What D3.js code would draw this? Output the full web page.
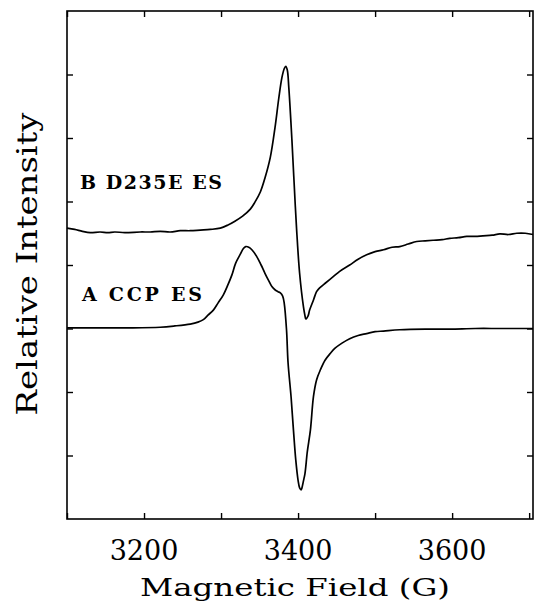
<!DOCTYPE html>
<html>
<head>
<meta charset="utf-8">
<script src="https://cdn.jsdelivr.net/npm/d3@7"></script>
<style>
	body { margin: 0; background: #fff; }
	text { font-family: "DejaVu Serif", "Liberation Serif", serif; fill: #000; }
</style>
</head>
<body>
<div id="panel"></div>
<script>
// Espectro B: D235E ES (campo en G, intensidad relativa)
var campoB = [3100, 3110, 3120, 3130, 3143, 3153, 3162, 3175, 3195, 3208, 3221, 3234, 3247, 3260, 3273, 3286, 3299, 3309, 3318, 3328, 3338, 3344, 3351, 3357, 3364, 3370, 3375, 3379, 3382, 3384, 3386, 3388, 3392, 3395, 3398, 3402, 3407, 3409, 3410, 3413, 3415, 3420, 3424, 3428, 3436, 3446, 3454, 3467, 3478, 3489, 3500, 3511, 3522, 3532, 3543, 3554, 3565, 3576, 3587, 3597, 3608, 3619, 3630, 3640, 3652, 3662, 3673, 3684, 3695, 3705];
var intB = [4.58, 4.56, 4.53, 4.51, 4.52, 4.51, 4.52, 4.51, 4.52, 4.52, 4.53, 4.52, 4.54, 4.54, 4.55, 4.56, 4.58, 4.63, 4.69, 4.77, 4.88, 4.99, 5.15, 5.37, 5.70, 6.16, 6.63, 6.95, 7.09, 7.13, 7.07, 6.79, 5.97, 5.26, 4.58, 3.87, 3.34, 3.20, 3.15, 3.20, 3.29, 3.45, 3.58, 3.64, 3.72, 3.82, 3.90, 4.00, 4.09, 4.16, 4.21, 4.24, 4.28, 4.29, 4.33, 4.37, 4.38, 4.39, 4.40, 4.42, 4.43, 4.45, 4.45, 4.46, 4.47, 4.49, 4.48, 4.50, 4.50, 4.48];

// Espectro A: CCP ES
var campoA = [3100, 3143, 3182, 3221, 3240, 3260, 3270, 3277, 3283, 3290, 3296, 3303, 3309, 3314, 3319, 3325, 3329, 3332, 3336, 3340, 3346, 3352, 3357, 3362, 3366, 3370, 3374, 3377, 3380, 3382, 3385, 3387, 3391, 3394, 3397, 3400, 3402, 3404, 3405, 3407, 3409, 3412, 3416, 3420, 3424, 3429, 3435, 3442, 3448, 3457, 3467, 3478, 3489, 3500, 3511, 3532, 3565, 3597, 3630, 3662, 3705];
var intA = [3.01, 3.01, 3.01, 3.02, 3.04, 3.07, 3.10, 3.14, 3.21, 3.29, 3.40, 3.53, 3.69, 3.84, 4.03, 4.17, 4.26, 4.29, 4.28, 4.24, 4.14, 4.00, 3.87, 3.75, 3.66, 3.61, 3.58, 3.56, 3.51, 3.40, 2.98, 2.46, 1.91, 1.40, 0.93, 0.61, 0.49, 0.46, 0.49, 0.60, 0.72, 1.06, 1.40, 1.93, 2.19, 2.35, 2.50, 2.61, 2.69, 2.77, 2.84, 2.89, 2.92, 2.95, 2.96, 2.98, 2.99, 2.99, 3.00, 3.00, 3.00];

var etiquetasX = [3200, 3400, 3600];
var ticksX = [3100, 3200, 3300, 3400, 3500, 3600, 3700];
var ticksY = [1, 2, 3, 4, 5, 6, 7];

var w = 534;
var h = 605;
var izq = 67, der = 533, arriba = 11, abajo = 519;

var svg = d3.select('#panel')
	.append('svg')
	.attr("width", w)
	.attr("height", h);

var x = d3.scaleLinear().domain([3100, 3705]).range([izq, der]);
var y = d3.scaleLinear().domain([0, 8]).range([abajo, arriba]);

// marco
svg.append("rect")
	.attr("x", izq)
	.attr("y", arriba)
	.attr("width", der - izq)
	.attr("height", abajo - arriba)
	.attr("fill", "none")
	.attr("stroke", "#000")
	.attr("stroke-width", 1.6);

// ticks hacia adentro en los cuatro lados
var ejeAbajo = d3.axisBottom(x).tickValues(ticksX).tickSize(-6).tickFormat("");
var ejeArriba = d3.axisTop(x).tickValues(ticksX).tickSize(-6).tickFormat("");
var ejeIzq = d3.axisLeft(y).tickValues(ticksY).tickSize(-6).tickFormat("");
var ejeDer = d3.axisRight(y).tickValues(ticksY).tickSize(-6).tickFormat("");

svg.append("g").attr("transform", "translate(0," + abajo + ")").call(ejeAbajo);
svg.append("g").attr("transform", "translate(0," + arriba + ")").call(ejeArriba);
svg.append("g").attr("transform", "translate(" + izq + ",0)").call(ejeIzq);
svg.append("g").attr("transform", "translate(" + der + ",0)").call(ejeDer);

svg.selectAll(".domain").remove();
svg.selectAll(".tick line").attr("stroke", "#000").attr("stroke-width", 1.4);

// numeros del eje x
svg.selectAll("text.num")
	.data(etiquetasX)
	.enter()
	.append("text")
	.attr("class", "num")
	.attr("x", function (d) { return x(d); })
	.attr("y", 560)
	.attr("text-anchor", "middle")
	.style("font-size", "27px")
	.text(function (d) { return d; });

svg.append("text")
	.attr("x", 295)
	.attr("y", 596)
	.attr("text-anchor", "middle")
	.attr("textLength", 310)
	.attr("lengthAdjust", "spacingAndGlyphs")
	.style("font-size", "25px")
	.text("Magnetic Field (G)");

svg.append("text")
	.attr("transform", "translate(37,264) rotate(-90)")
	.attr("text-anchor", "middle")
	.attr("textLength", 303)
	.attr("lengthAdjust", "spacingAndGlyphs")
	.style("font-size", "27px")
	.text("Relative Intensity");

// curvas
var linea = function (campo, inten) {
	return d3.line()
		.x(function (d, i) { return x(campo[i]); })
		.y(function (d, i) { return y(inten[i]); })
		.curve(d3.curveCatmullRom.alpha(0.5))(campo);
};

svg.append("path")
	.attr("d", linea(campoB, intB))
	.attr("fill", "none")
	.attr("stroke", "#000")
	.attr("stroke-width", 1.7);

svg.append("path")
	.attr("d", linea(campoA, intA))
	.attr("fill", "none")
	.attr("stroke", "#000")
	.attr("stroke-width", 1.7);

// rotulos de cada espectro
svg.append("text")
	.attr("x", 80)
	.attr("y", 189)
	.attr("textLength", 142)
	.attr("lengthAdjust", "spacing")
	.style("font-size", "19px")
	.style("font-weight", "bold")
	.text("B D235E ES");

svg.append("text")
	.attr("x", 82)
	.attr("y", 301)
	.attr("textLength", 120)
	.attr("lengthAdjust", "spacing")
	.style("font-size", "19px")
	.style("font-weight", "bold")
	.text("A CCP ES");
</script>
</body>
</html>
